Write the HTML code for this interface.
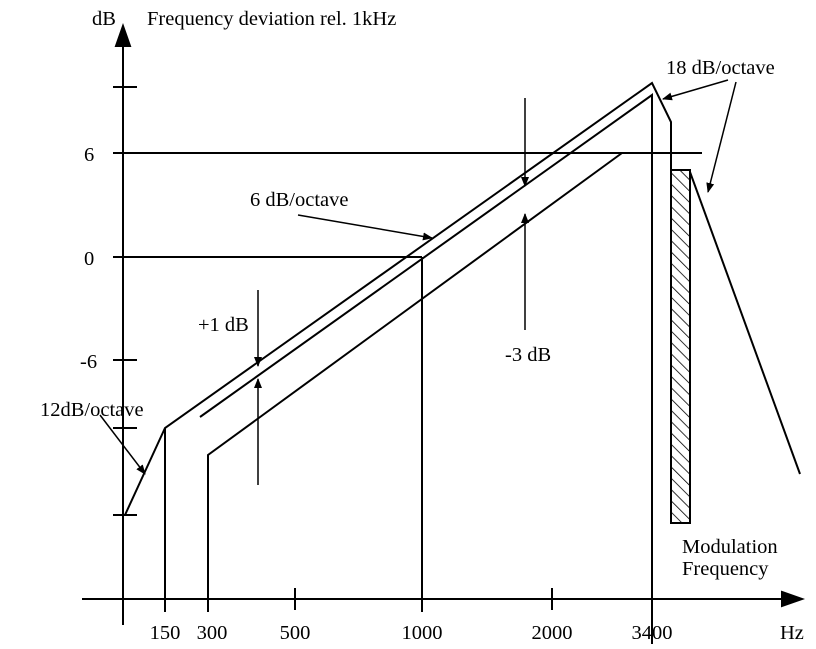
<!DOCTYPE html>
<html><head><style>body{margin:0;background:#fff}</style></head><body>
<svg width="816" height="644" xmlns="http://www.w3.org/2000/svg" font-family="Liberation Serif, serif" font-size="20.5" fill="#000">
<defs>
<marker id="a" markerWidth="10" markerHeight="8" refX="9" refY="4" orient="auto" markerUnits="userSpaceOnUse"><path d="M0,0 L10,4 L0,8 z"/></marker>
<pattern id="h" width="8" height="8" patternUnits="userSpaceOnUse" patternTransform="rotate(-45)"><line x1="0" y1="0" x2="0" y2="8" stroke="#000" stroke-width="1.6"/></pattern>
</defs>
<g stroke="#000" stroke-width="2" fill="none">
<line x1="123" y1="625" x2="123" y2="32"/>
<path d="M116,46 L123,26 L130,46 z" fill="#000"/>
<line x1="82" y1="599" x2="795" y2="599"/>
<path d="M782,592 L802,599 L782,606 z" fill="#000"/>
<line x1="113" y1="87" x2="137" y2="87"/>
<line x1="113" y1="360" x2="137" y2="360"/>
<line x1="113" y1="428" x2="137" y2="428"/>
<line x1="113" y1="515" x2="137" y2="515"/>
<line x1="113" y1="153" x2="702" y2="153"/>
<line x1="113" y1="257" x2="422" y2="257"/>
<line x1="295" y1="588" x2="295" y2="610"/>
<line x1="552" y1="588" x2="552" y2="610"/>
<polyline points="125,515 165,428 652,83 671,122 671,523"/>
<line x1="165" y1="428" x2="165" y2="612"/>
<polyline points="200,417 652,95 652,644"/>
<polyline points="208,612 208,455 622,153"/>
<line x1="422" y1="257" x2="422" y2="612"/>
<line x1="690" y1="172" x2="800" y2="474"/>
</g>
<rect x="671" y="170" width="19" height="353" fill="url(#h)" stroke="#000" stroke-width="2"/>
<g stroke="#000" stroke-width="1.5" fill="none" marker-end="url(#a)">
<line x1="258" y1="290" x2="258" y2="366"/>
<line x1="258" y1="485" x2="258" y2="379"/>
<line x1="525" y1="98" x2="525" y2="186"/>
<line x1="525" y1="330" x2="525" y2="214"/>
<line x1="298" y1="215" x2="432" y2="238"/>
<line x1="100" y1="415" x2="145" y2="474"/>
<line x1="728" y1="80" x2="663" y2="99"/>
<line x1="736" y1="82" x2="708" y2="192"/>
</g>
<text x="92" y="25">dB</text>
<text x="147" y="25">Frequency deviation rel. 1kHz</text>
<text x="84" y="161">6</text>
<text x="84" y="265">0</text>
<text x="80" y="368">-6</text>
<text x="40" y="416">12dB/octave</text>
<text x="250" y="206">6 dB/octave</text>
<text x="198" y="331">+1 dB</text>
<text x="505" y="361">-3 dB</text>
<text x="666" y="74">18 dB/octave</text>
<text x="682" y="553">Modulation</text>
<text x="682" y="575">Frequency</text>
<text x="165" y="639" text-anchor="middle">150</text>
<text x="212" y="639" text-anchor="middle">300</text>
<text x="295" y="639" text-anchor="middle">500</text>
<text x="422" y="639" text-anchor="middle">1000</text>
<text x="552" y="639" text-anchor="middle">2000</text>
<text x="652" y="639" text-anchor="middle">3400</text>
<text x="780" y="639">Hz</text>
</svg>
</body></html>
